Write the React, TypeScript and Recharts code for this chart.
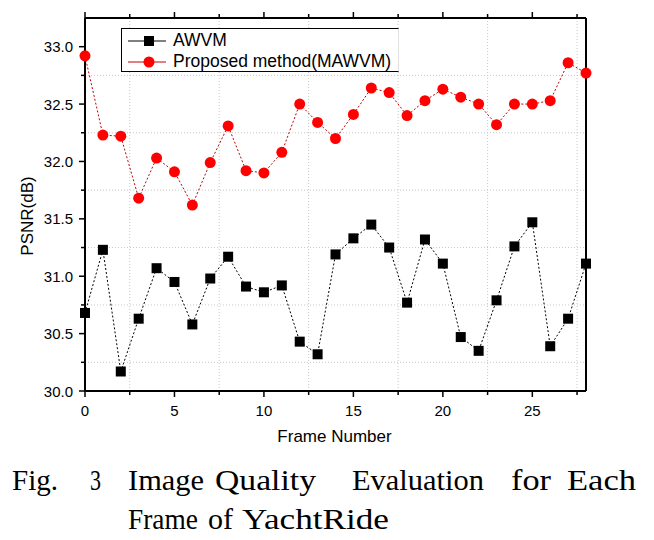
import React from 'react';
import { LineChart, Line, XAxis, YAxis, CartesianGrid } from 'recharts';

// frame index on the x axis
const frames = [0, 1, 2, 3, 4, 5, 6, 7, 8, 9, 10, 11, 12, 13, 14, 15, 16, 17, 18, 19, 20, 21, 22, 23, 24, 25, 26, 27, 28];

// PSNR (dB) per frame
const awvm = [
  30.68, 31.23, 30.17, 30.63, 31.07, 30.95, 30.58, 30.98, 31.17, 30.91,
  30.86, 30.92, 30.43, 30.32, 31.19, 31.33, 31.45, 31.25, 30.77, 31.32,
  31.11, 30.47, 30.35, 30.79, 31.26, 31.47, 30.39, 30.63, 31.11,
];
const proposed = [
  32.92, 32.23, 32.22, 31.68, 32.03, 31.91, 31.62, 31.99, 32.31, 31.92,
  31.9, 32.08, 32.5, 32.34, 32.2, 32.41, 32.64, 32.6, 32.4, 32.53,
  32.63, 32.56, 32.5, 32.32, 32.5, 32.5, 32.53, 32.86, 32.77,
];

const xTicks = [0, 2.5, 5, 7.5, 10, 12.5, 15, 17.5, 20, 22.5, 25, 27.5];
const yTicks = [30, 30.25, 30.5, 30.75, 31, 31.25, 31.5, 31.75, 32, 32.25, 32.5, 32.75, 33];
const xGrid = [2.5, 7.5, 12.5, 17.5, 22.5, 27.5];
const yGrid = [30.25, 30.75, 31.25, 31.75, 32.25, 32.75];

// caption words (justified in the source, so each word sits at its own spot)
const captionLine1 = [
  { word: 'Fig.', x: 12, w: 46 },
  { word: '3', x: 90, w: 11 },
  { word: 'Image', x: 128, w: 76 },
  { word: 'Quality', x: 215, w: 101 },
  { word: 'Evaluation', x: 352, w: 132 },
  { word: 'for', x: 511, w: 40 },
  { word: 'Each', x: 567, w: 69 },
];
const captionLine2 = [
  { word: 'Frame', x: 128, w: 70 },
  { word: 'of', x: 208, w: 25 },
  { word: 'YachtRide', x: 242, w: 147 },
];

const chartData = frames.map((f, i) => ({ frame: f, awvm: awvm[i], proposed: proposed[i] }));

const FONT = '"Liberation Sans", Arial, sans-serif';

type Side = 'bottom' | 'top' | 'left' | 'right';

const makeTick = (side: Side) => (props: any) => {
  const { x, y, payload } = props;
  const v = payload.value as number;
  const horizontal = side === 'bottom' || side === 'top';
  const major = horizontal ? v % 5 === 0 : Math.abs(v * 2 - Math.round(v * 2)) < 1e-6;
  const len = major ? 6 : 4;
  let line;
  let label = null;
  if (side === 'bottom') {
    line = <line x1={x} y1={y} x2={x} y2={y + len} stroke="#000" strokeWidth={1.5} />;
    if (major) label = <text x={x} y={y + 25} textAnchor="middle" fontSize={15} fill="#000">{v}</text>;
  } else if (side === 'top') {
    line = <line x1={x} y1={y} x2={x} y2={y - len} stroke="#000" strokeWidth={1.5} />;
  } else if (side === 'left') {
    line = <line x1={x} y1={y} x2={x - len} y2={y} stroke="#000" strokeWidth={1.5} />;
    if (major) label = <text x={x - 12} y={y + 5.5} textAnchor="end" fontSize={15} fill="#000">{v.toFixed(1)}</text>;
  } else {
    line = <line x1={x} y1={y} x2={x + len} y2={y} stroke="#000" strokeWidth={1.5} />;
  }
  return (
    <g>
      {line}
      {label}
    </g>
  );
};

const SquareDot = (p: any) => (
  <rect key={`sq-${p.index}`} x={p.cx - 5} y={p.cy - 5} width={10} height={10} fill="#000" />
);
const CircleDot = (p: any) => (
  <circle key={`ci-${p.index}`} cx={p.cx} cy={p.cy} r={5.5} fill="#ff0000" />
);

const App: React.FC = () => {
  return (
    <div style={{ position: 'absolute', left: 0, top: 0, width: 654, height: 540, background: '#fff', fontFamily: FONT }}>
      <LineChart
        width={654}
        height={450}
        data={chartData}
        margin={{ top: 10, right: 58, bottom: 29, left: 0 }}
        style={{ fontFamily: FONT }}
      >
        <CartesianGrid
          xAxisId="bottom"
          yAxisId="left"
          horizontalValues={yGrid}
          verticalValues={xGrid}
          stroke="#c8c8c8"
          strokeDasharray="1 2"
        />
        <XAxis
          xAxisId="bottom"
          dataKey="frame"
          type="number"
          domain={[0, 28]}
          ticks={xTicks}
          interval={0}
          height={30}
          tickSize={0}
          tickMargin={0}
          tickLine={false}
          axisLine={{ stroke: '#000', strokeWidth: 2 }}
          tick={makeTick('bottom')}
        />
        <XAxis
          xAxisId="top"
          orientation="top"
          dataKey="frame"
          type="number"
          domain={[0, 28]}
          ticks={xTicks}
          interval={0}
          height={8}
          tickSize={0}
          tickMargin={0}
          tickLine={false}
          axisLine={{ stroke: '#000', strokeWidth: 2 }}
          tick={makeTick('top')}
        />
        <YAxis
          yAxisId="left"
          type="number"
          domain={[30, 33.25]}
          ticks={yTicks}
          interval={0}
          width={85}
          tickSize={0}
          tickMargin={0}
          tickLine={false}
          axisLine={{ stroke: '#000', strokeWidth: 2 }}
          tick={makeTick('left')}
        />
        <YAxis
          yAxisId="right"
          orientation="right"
          type="number"
          domain={[30, 33.25]}
          ticks={yTicks}
          interval={0}
          width={10}
          tickSize={0}
          tickMargin={0}
          tickLine={false}
          axisLine={{ stroke: '#000', strokeWidth: 2 }}
          tick={makeTick('right')}
        />
        <Line
          xAxisId="bottom"
          yAxisId="left"
          type="linear"
          dataKey="awvm"
          name="AWVM"
          stroke="#000"
          strokeWidth={1}
          strokeDasharray="2 2"
          dot={SquareDot}
          isAnimationActive={false}
        />
        <Line
          xAxisId="bottom"
          yAxisId="left"
          type="linear"
          dataKey="proposed"
          name="Proposed method(MAWVM)"
          stroke="#c00000"
          strokeWidth={1}
          strokeDasharray="2 2"
          dot={CircleDot}
          isAnimationActive={false}
        />
      </LineChart>

      {/* legend */}
      <div
        style={{
          position: 'absolute',
          left: 121,
          top: 28,
          width: 276,
          height: 42,
          borderLeft: '1px solid #000',
          borderTop: '1px solid #000',
          borderBottom: '1px solid #000',
          borderRight: '1px solid #e0e0e0',
          background: '#fff',
        }}
      >
        <svg width={50} height={42} style={{ position: 'absolute', left: 0, top: 0 }}>
          <line x1={6} y1={12} x2={44} y2={12} stroke="#000" strokeWidth={1} />
          <rect x={22} y={7} width={10} height={10} fill="#000" />
          <line x1={6} y1={33} x2={44} y2={33} stroke="#c00000" strokeWidth={1} />
          <circle cx={27} cy={33} r={5.5} fill="#ff0000" />
        </svg>
        <div style={{ position: 'absolute', left: 51, top: 1, fontSize: 17.5, lineHeight: '21px', whiteSpace: 'nowrap' }}>AWVM</div>
        <div style={{ position: 'absolute', left: 51, top: 22, fontSize: 17.5, lineHeight: '21px', whiteSpace: 'nowrap' }}>Proposed method(MAWVM)</div>
      </div>

      {/* axis titles */}
      <div style={{ position: 'absolute', left: 0, top: 426, width: 669, textAlign: 'center', fontSize: 17, lineHeight: '22px' }}>
        Frame Number
      </div>
      <div
        style={{
          position: 'absolute',
          left: 28,
          top: 216,
          fontSize: 17,
          lineHeight: '20px',
          whiteSpace: 'nowrap',
          transform: 'translate(-50%, -50%) rotate(-90deg)',
        }}
      >
        PSNR(dB)
      </div>

      {/* caption */}
      <svg width={654} height={90} style={{ position: 'absolute', left: 0, top: 450 }}>
        <g fontFamily='"Liberation Serif", serif' fontSize={30} fill="#000">
          {captionLine1.map((w) => (
            <text key={w.word} x={w.x} y={40} textLength={w.w} lengthAdjust="spacingAndGlyphs">
              {w.word}
            </text>
          ))}
          {captionLine2.map((w) => (
            <text key={w.word} x={w.x} y={79} textLength={w.w} lengthAdjust="spacingAndGlyphs">
              {w.word}
            </text>
          ))}
        </g>
      </svg>
    </div>
  );
};

export default App;
